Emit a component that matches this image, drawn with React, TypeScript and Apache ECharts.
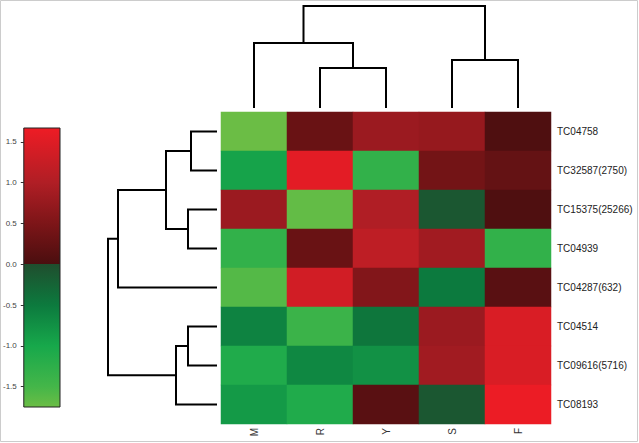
import React, { useEffect, useRef } from "react";
import * as echarts from "echarts";

const colNames = ["M", "R", "Y", "S", "F"];
const rowNames = [
  "TC04758",
  "TC32587(2750)",
  "TC15375(25266)",
  "TC04939",
  "TC04287(632)",
  "TC04514",
  "TC09616(5716)",
  "TC08193",
];
// rows x columns (M, R, Y, S, F)
const rowValues: number[][] = [
  [-1.75, 0.3, 0.8, 0.75, 0.05],
  [-0.95, 1.55, -1.3, 0.4, 0.25],
  [0.8, -1.7, 1.0, -0.1, 0.05],
  [-1.3, 0.3, 1.15, 0.85, -1.3],
  [-1.6, 1.35, 0.55, -0.5, 0.15],
  [-0.6, -1.4, -0.45, 0.8, 1.45],
  [-1.1, -0.65, -0.75, 0.85, 1.45],
  [-0.85, -1.1, 0.15, -0.1, 1.65],
];
// linkage: [a, b, height]; new clusters numbered after leaves
const colLinkage: number[][] = [
  [1, 2, 4.0],
  [3, 4, 4.8],
  [0, 5, 6.5],
  [7, 6, 10.2],
];
const rowLinkage: number[][] = [
  [0, 1, 2.6],
  [2, 3, 2.9],
  [5, 6, 2.9],
  [10, 7, 4.1],
  [8, 9, 5.1],
  [12, 4, 9.9],
  [13, 11, 10.9],
];
const scaleMin = -1.75;
const scaleMax = 1.67;
const scaleTicks = [-1.5, -1.0, -0.5, 0.0, 0.5, 1.0, 1.5];
const scaleStops: [number, string][] = [
  [-1.75, "#6bbd45"],
  [-1.5, "#44b649"],
  [-1.0, "#17a84b"],
  [-0.5, "#0c7a3e"],
  [0, "#1f4e2e"],
  [0, "#4a0e0f"],
  [0.5, "#7d1518"],
  [1.0, "#b01e25"],
  [1.67, "#ee1c25"],
];

function hexToRgb(h: string) {
  return [1, 3, 5].map((i) => parseInt(h.slice(i, i + 2), 16));
}
function colorAt(v: number) {
  for (let i = 0; i < scaleStops.length - 1; i++) {
    const [v0, c0] = scaleStops[i];
    const [v1, c1] = scaleStops[i + 1];
    if (v >= v0 && v <= v1 && v1 > v0) {
      const t = (v - v0) / (v1 - v0);
      const a = hexToRgb(c0);
      const b = hexToRgb(c1);
      const m = a.map((x, k) => Math.round(x + (b[k] - x) * t));
      return `rgb(${m[0]},${m[1]},${m[2]})`;
    }
  }
  return v < scaleMin ? scaleStops[0][1] : scaleStops[scaleStops.length - 1][1];
}

function dendroSegments(linkage: number[][], nLeaves: number) {
  const pos: number[] = [];
  const hgt: number[] = [];
  for (let i = 0; i < nLeaves; i++) {
    pos.push(i + 0.5);
    hgt.push(0);
  }
  const segs: { a: number; ha: number; b: number; hb: number; h: number }[] = [];
  linkage.forEach(([a, b, h]) => {
    segs.push({ a: pos[a], ha: hgt[a], b: pos[b], hb: hgt[b], h });
    pos.push((pos[a] + pos[b]) / 2);
    hgt.push(h);
  });
  return segs;
}

const FONT = "Liberation Sans, Arial, sans-serif";

export default function App() {
  const ref = useRef<HTMLDivElement>(null);
  useEffect(() => {
    document.body.style.margin = "0";
    const chart = echarts.init(ref.current!, null, { renderer: "svg" });

    const heatData: number[][] = [];
    rowValues.forEach((row, r) => row.forEach((v, c) => heatData.push([c, r, v])));

    const topSegs = dendroSegments(colLinkage, colNames.length).map((s) => ({
      coords: [
        [s.a, s.ha],
        [s.a, s.h],
        [s.b, s.h],
        [s.b, s.hb],
      ],
    }));
    const leftSegs = dendroSegments(rowLinkage, rowNames.length).map((s) => ({
      coords: [
        [s.ha, s.a],
        [s.h, s.a],
        [s.h, s.b],
        [s.hb, s.b],
      ],
    }));

    const N = 200;
    const vmColors: string[] = [];
    for (let i = 0; i <= N; i++) vmColors.push(colorAt(scaleMin + ((scaleMax - scaleMin) * i) / N));

    const span = scaleMax - scaleMin;
    const gradStops = scaleStops
      .slice()
      .reverse()
      .map(([v, c]) => ({ offset: (scaleMax - v) / span, color: c }));

    const colTopH = colLinkage[colLinkage.length - 1][2];
    const rowTopH = rowLinkage[rowLinkage.length - 1][2];

    chart.setOption({
      animation: false,
      textStyle: { fontFamily: FONT },
      graphic: [
        {
          type: "rect",
          shape: { x: 0.5, y: 0.5, width: 637, height: 441 },
          style: { fill: "none", stroke: "#cccccc", lineWidth: 1 },
          z: -1,
        },
      ],
      grid: [
        { left: 221, top: 112, width: 330, height: 312 },
        { left: 221, top: 6, width: 330, height: 102 },
        { left: 108, top: 112, width: 109, height: 312 },
        { left: 23, top: 128, width: 37, height: 279 },
      ],
      xAxis: [
        {
          type: "category",
          gridIndex: 0,
          data: colNames,
          axisLine: { show: false },
          axisTick: { show: false },
          axisLabel: { rotate: 90, margin: 4, fontSize: 10, color: "#333", fontFamily: FONT },
        },
        { type: "value", gridIndex: 1, min: 0, max: colNames.length, show: false },
        { type: "value", gridIndex: 2, min: 0, max: rowTopH, inverse: true, show: false },
        { type: "value", gridIndex: 3, min: 0, max: 1, show: false },
      ],
      yAxis: [
        {
          type: "category",
          gridIndex: 0,
          data: rowNames,
          inverse: true,
          position: "right",
          axisLine: { show: false },
          axisTick: { show: false },
          axisLabel: { margin: 6, fontSize: 10, color: "#222", fontFamily: FONT },
        },
        { type: "value", gridIndex: 1, min: 0, max: colTopH, show: false },
        { type: "value", gridIndex: 2, min: 0, max: rowNames.length, inverse: true, show: false },
        {
          type: "value",
          gridIndex: 3,
          min: scaleMin,
          max: scaleMax,
          position: "left",
          splitLine: { show: false },
          axisLine: { show: false },
          axisTick: {
            show: true,
            length: 3,
            customValues: scaleTicks,
            lineStyle: { color: "#333", width: 1 },
          },
          axisLabel: {
            customValues: scaleTicks,
            margin: 7,
            fontSize: 8,
            color: "#444",
            fontFamily: FONT,
            formatter: (v: number) => v.toFixed(1),
          },
        },
      ],
      visualMap: {
        show: false,
        type: "continuous",
        seriesIndex: 0,
        dimension: 2,
        min: scaleMin,
        max: scaleMax,
        inRange: { color: vmColors },
      },
      series: [
        {
          type: "heatmap",
          xAxisIndex: 0,
          yAxisIndex: 0,
          data: heatData,
          itemStyle: { borderWidth: 0 },
        },
        {
          type: "lines",
          coordinateSystem: "cartesian2d",
          xAxisIndex: 1,
          yAxisIndex: 1,
          polyline: true,
          clip: false,
          lineStyle: { color: "#000", width: 2, opacity: 1 },
          data: topSegs,
        },
        {
          type: "lines",
          coordinateSystem: "cartesian2d",
          xAxisIndex: 2,
          yAxisIndex: 2,
          polyline: true,
          clip: false,
          lineStyle: { color: "#000", width: 2, opacity: 1 },
          data: leftSegs,
        },
        {
          type: "custom",
          xAxisIndex: 3,
          yAxisIndex: 3,
          clip: false,
          data: [[0, 0]],
          renderItem: (params: any, api: any) => {
            const p0 = api.coord([0, scaleMax]);
            const p1 = api.coord([1, scaleMin]);
            return {
              type: "rect",
              shape: { x: p0[0], y: p0[1], width: p1[0] - p0[0], height: p1[1] - p0[1] },
              style: {
                fill: new echarts.graphic.LinearGradient(0, 0, 0, 1, gradStops),
                stroke: "#222",
                lineWidth: 1,
              },
            };
          },
        },
      ],
    });
    return () => chart.dispose();
  }, []);
  return <div ref={ref} style={{ width: 639, height: 443 }} />;
}
